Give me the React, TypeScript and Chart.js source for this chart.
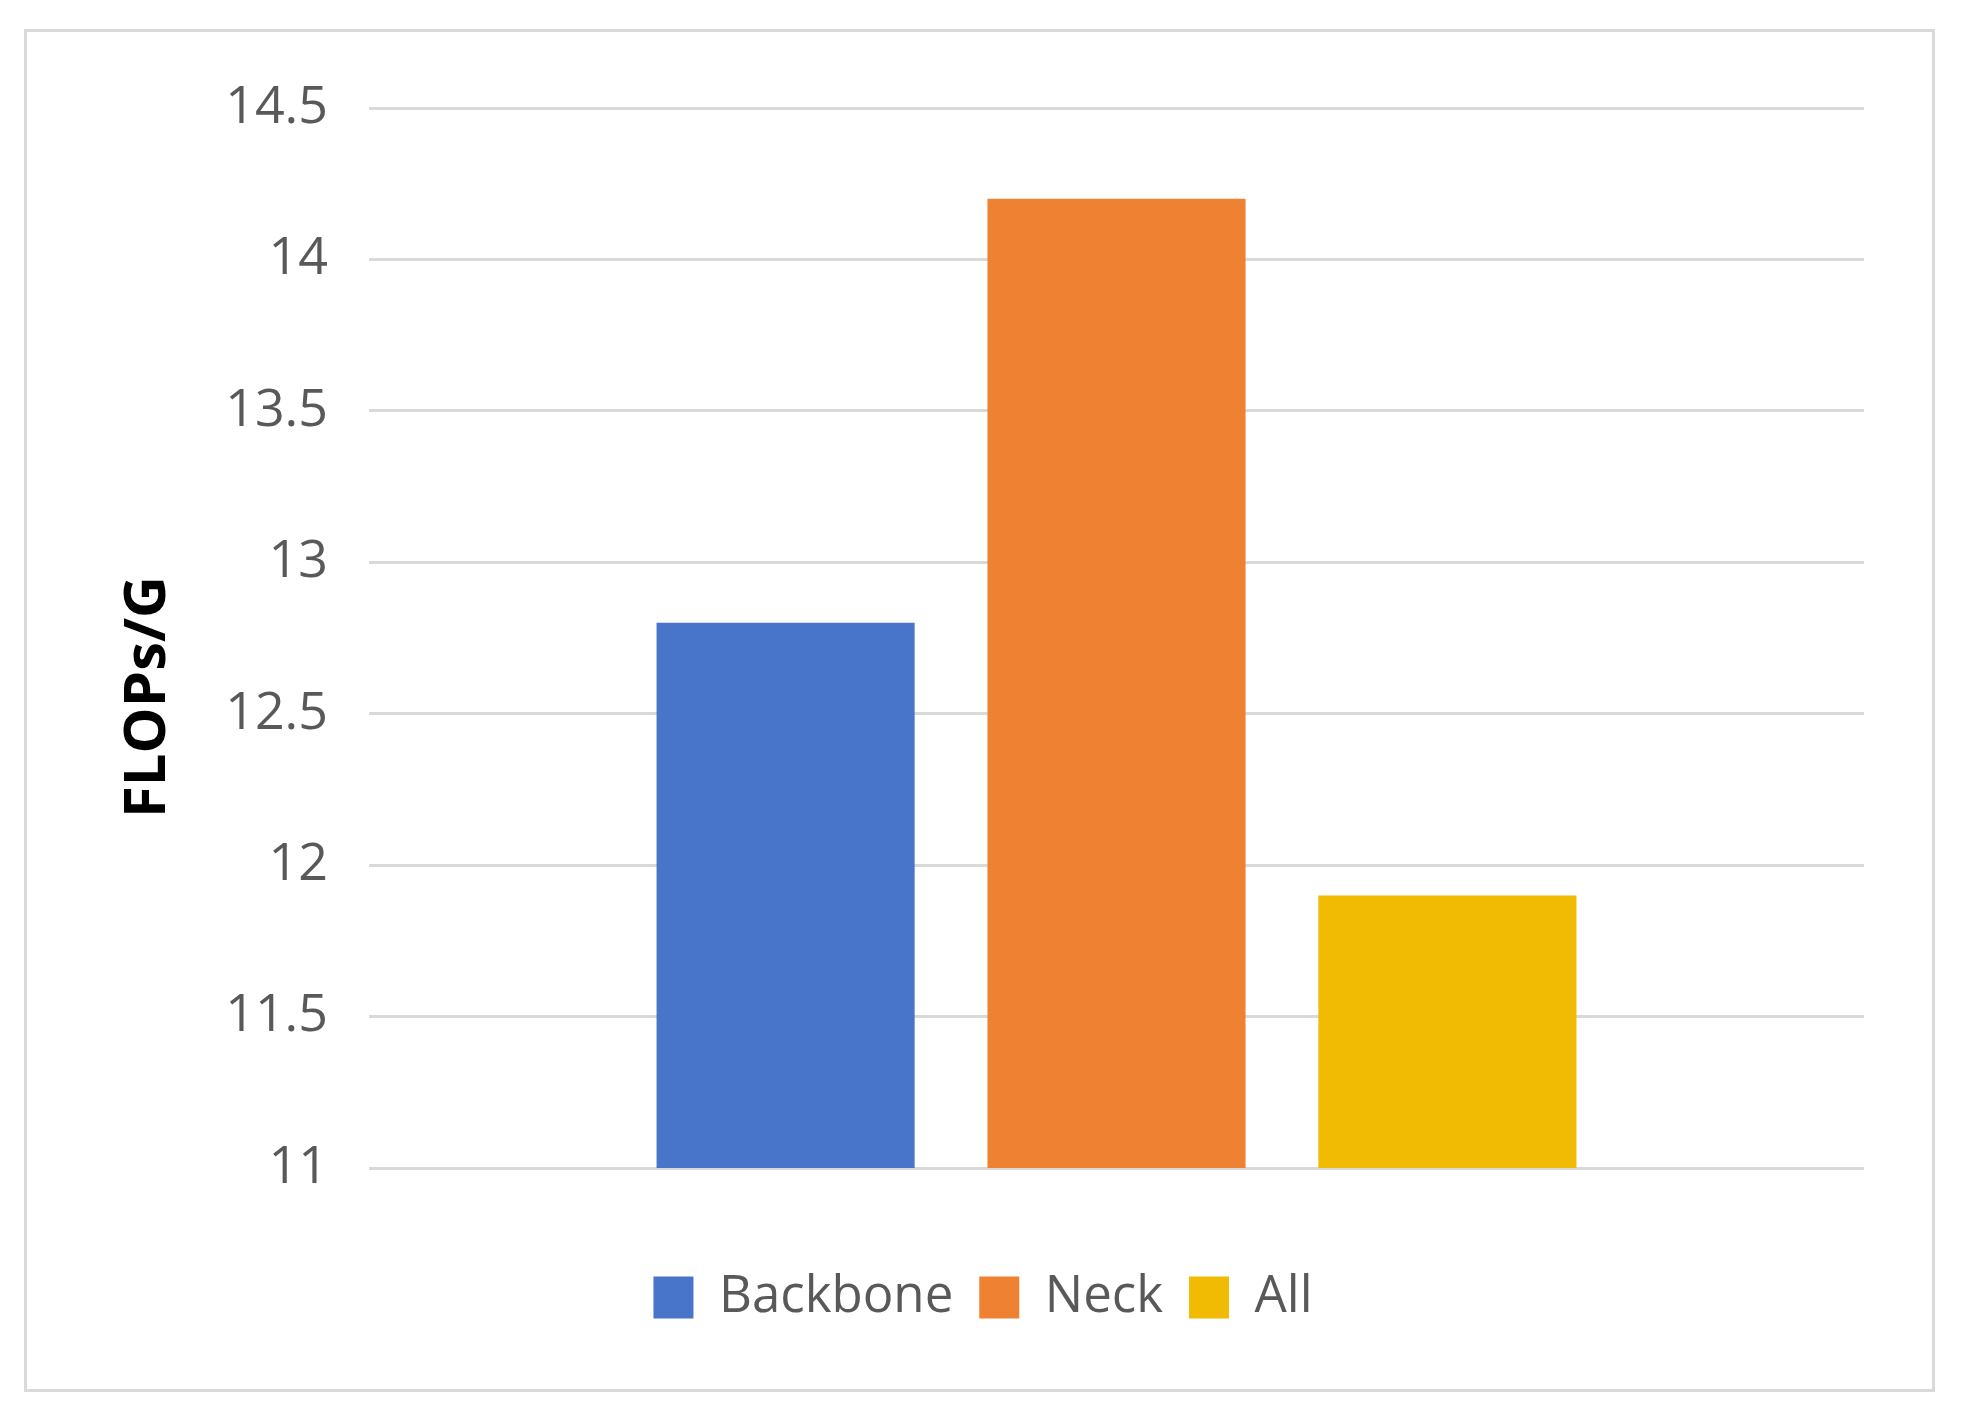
import React, { useEffect, useRef } from "react";
import { Chart, registerables } from "chart.js";

Chart.register(...registerables);

const categories: string[] = [""];
const seriesNames: string[] = ["Backbone", "Neck", "All"];
const backboneValues: number[] = [12.8];
const neckValues: number[] = [14.2];
const allValues: number[] = [11.9];
const seriesColors: string[] = ["#4874C9", "#EE8232", "#F1BA03"];
const yMin = 11;
const yMax = 14.5;
const yStep = 0.5;
const yTitle = "FLOPs/G";

const W = 1963;
const H = 1420;
const FONT = "'Open Sans', 'Liberation Sans', sans-serif";

const yTitlePlugin = {
  id: "yTitlePlugin",
  afterDraw(chart: any) {
    const { ctx, chartArea, scales } = chart;
    const ys = scales.y;
    const x = ys.left + 46;
    const y = (chartArea.top + chartArea.bottom) / 2 + 59;
    ctx.save();
    ctx.translate(x, y);
    ctx.rotate(-Math.PI / 2);
    ctx.font = `bold 58px ${FONT}`;
    ctx.fillStyle = "#000000";
    ctx.textAlign = "center";
    ctx.textBaseline = "middle";
    ctx.fillText(yTitle, 0, 0);
    ctx.restore();
  },
};

export default function App() {
  const ref = useRef<HTMLCanvasElement | null>(null);

  useEffect(() => {
    if (!ref.current) return;
    const values = [backboneValues, neckValues, allValues];
    const chart = new Chart(ref.current, {
      type: "bar",
      data: {
        labels: categories,
        datasets: seriesNames.map((name, i) => ({
          label: name,
          data: values[i],
          backgroundColor: seriesColors[i],
          borderWidth: 0,
          categoryPercentage: 0.664,
          barPercentage: 0.78,
        })),
      },
      plugins: [yTitlePlugin],
      options: {
        responsive: false,
        animation: false,
        devicePixelRatio: 1,
        layout: { padding: { left: 102, right: 99, top: 108, bottom: 87 } },
        plugins: {
          tooltip: { enabled: false },
          legend: {
            position: "bottom",
            align: "center",
            labels: {
              boxWidth: 40,
              boxHeight: 42,
              padding: 26,
              color: "#595959",
              font: { family: FONT, size: 51 },
            },
          },
        },
        scales: {
          x: {
            display: true,
            grid: { display: false },
            border: { display: false },
            ticks: { display: false },
            afterFit: (s: any) => {
              s.height = 78;
            },
          },
          y: {
            min: yMin,
            max: yMax,
            ticks: {
              stepSize: yStep,
              color: "#595959",
              padding: 41,
              font: { family: FONT, size: 52 },
              callback: (v: any) => `${Number(v)}`,
            },
            grid: { color: "#D9D9D9", lineWidth: 3, drawTicks: false },
            border: { display: false },
            title: { display: false },
            afterFit: (s: any) => {
              s.width = 267;
            },
          },
        },
      },
    });
    return () => chart.destroy();
  }, []);

  return (
    <div style={{ position: "absolute", left: 0, top: 0, width: W, height: H, background: "#fff" }}>
      <div
        style={{
          position: "absolute",
          left: 24,
          top: 29,
          width: 1911,
          height: 1363,
          border: "3px solid #D9D9D9",
          boxSizing: "border-box",
        }}
      />
      <canvas ref={ref} width={W} height={H} style={{ position: "absolute", left: 0, top: 0 }} />
    </div>
  );
}
